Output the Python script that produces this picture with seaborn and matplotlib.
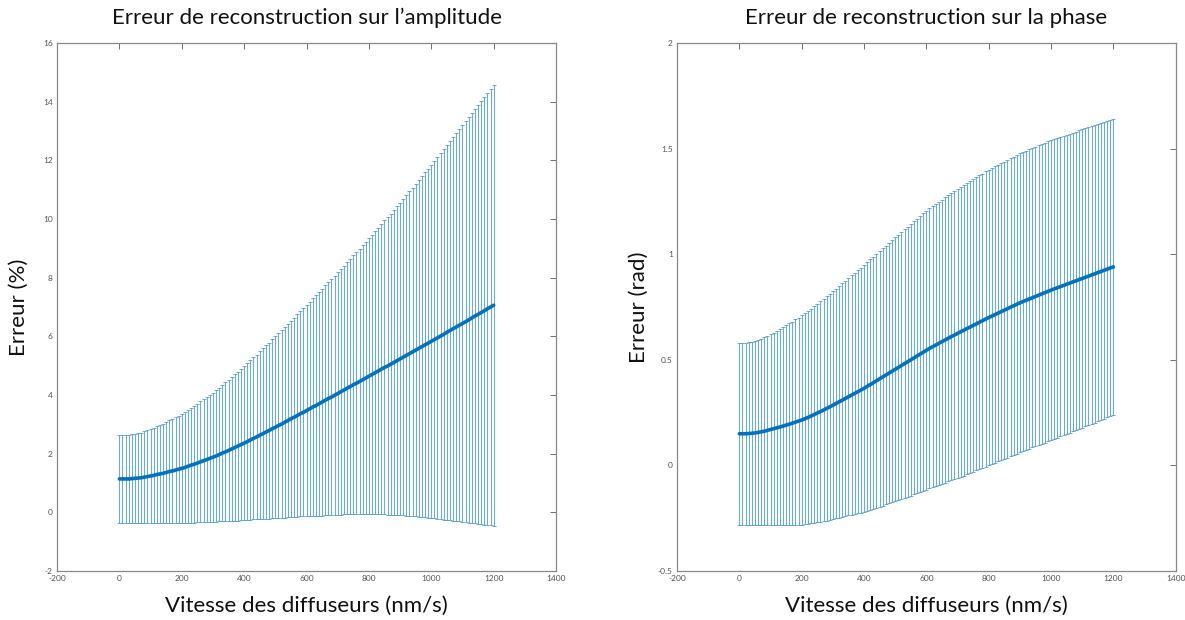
import matplotlib
matplotlib.use('Agg')
import matplotlib.pyplot as plt
from matplotlib.ticker import FuncFormatter
import seaborn as sns
import pandas as pd

sns.set_theme(style="white")
plt.rcParams['font.family'] = ['Lato', 'DejaVu Sans']

# vitesse des diffuseurs (nm/s), pas de 10
speeds = list(range(0, 1201, 10))

amp_mean = [1.14, 1.14, 1.14, 1.14, 1.15, 1.16, 1.17, 1.18, 1.20, 1.22,
            1.24, 1.26, 1.29, 1.31, 1.33, 1.36, 1.39, 1.41, 1.44, 1.47,
            1.50, 1.53, 1.57, 1.61, 1.64, 1.68, 1.72, 1.76, 1.80, 1.84,
            1.88, 1.92, 1.97, 2.02, 2.06, 2.11, 2.16, 2.21, 2.26, 2.31,
            2.36, 2.41, 2.47, 2.52, 2.57, 2.63, 2.68, 2.74, 2.79, 2.85,
            2.90, 2.96, 3.01, 3.07, 3.13, 3.19, 3.24, 3.30, 3.36, 3.41,
            3.47, 3.53, 3.59, 3.64, 3.70, 3.76, 3.82, 3.88, 3.93, 3.99,
            4.05, 4.11, 4.17, 4.23, 4.29, 4.35, 4.40, 4.46, 4.52, 4.58,
            4.64, 4.70, 4.76, 4.82, 4.88, 4.94, 4.99, 5.05, 5.11, 5.17,
            5.23, 5.29, 5.35, 5.41, 5.47, 5.53, 5.59, 5.65, 5.71, 5.77,
            5.83, 5.89, 5.95, 6.01, 6.07, 6.14, 6.20, 6.26, 6.32, 6.38,
            6.44, 6.50, 6.56, 6.63, 6.69, 6.75, 6.81, 6.87, 6.94, 7.00,
            7.06]
amp_std = [1.50, 1.50, 1.50, 1.51, 1.51, 1.52, 1.53, 1.54, 1.56, 1.58,
           1.60, 1.62, 1.65, 1.67, 1.69, 1.72, 1.75, 1.77, 1.80, 1.83,
           1.86, 1.89, 1.92, 1.96, 1.99, 2.02, 2.06, 2.09, 2.13, 2.16,
           2.20, 2.24, 2.28, 2.32, 2.37, 2.41, 2.45, 2.49, 2.54, 2.58,
           2.62, 2.67, 2.72, 2.76, 2.81, 2.86, 2.91, 2.96, 3.00, 3.05,
           3.10, 3.15, 3.20, 3.25, 3.30, 3.35, 3.40, 3.45, 3.50, 3.55,
           3.60, 3.65, 3.71, 3.76, 3.81, 3.87, 3.92, 3.97, 4.02, 4.08,
           4.13, 4.19, 4.24, 4.30, 4.36, 4.42, 4.47, 4.53, 4.59, 4.64,
           4.70, 4.76, 4.82, 4.89, 4.95, 5.01, 5.07, 5.13, 5.20, 5.26,
           5.32, 5.39, 5.46, 5.53, 5.60, 5.67, 5.74, 5.81, 5.88, 5.95,
           6.02, 6.09, 6.17, 6.24, 6.32, 6.39, 6.46, 6.54, 6.61, 6.69,
           6.76, 6.84, 6.91, 6.99, 7.06, 7.14, 7.22, 7.29, 7.37, 7.44,
           7.52]

phase_mean = [0.150, 0.150, 0.150, 0.151, 0.152, 0.154, 0.156, 0.159, 0.162, 0.166,
              0.170, 0.174, 0.178, 0.182, 0.186, 0.191, 0.195, 0.200, 0.205, 0.210,
              0.215, 0.221, 0.227, 0.234, 0.241, 0.248, 0.255, 0.262, 0.270, 0.277,
              0.285, 0.293, 0.301, 0.309, 0.317, 0.325, 0.333, 0.341, 0.349, 0.357,
              0.365, 0.374, 0.383, 0.392, 0.401, 0.410, 0.419, 0.428, 0.437, 0.446,
              0.455, 0.464, 0.473, 0.482, 0.491, 0.500, 0.509, 0.518, 0.527, 0.536,
              0.545, 0.554, 0.562, 0.570, 0.578, 0.586, 0.594, 0.602, 0.610, 0.617,
              0.625, 0.633, 0.640, 0.648, 0.655, 0.663, 0.670, 0.678, 0.685, 0.693,
              0.700, 0.707, 0.714, 0.721, 0.728, 0.735, 0.742, 0.749, 0.756, 0.763,
              0.770, 0.776, 0.782, 0.788, 0.794, 0.800, 0.806, 0.812, 0.818, 0.824,
              0.830, 0.836, 0.841, 0.847, 0.852, 0.858, 0.863, 0.869, 0.874, 0.880,
              0.885, 0.891, 0.896, 0.902, 0.907, 0.913, 0.918, 0.924, 0.929, 0.935,
              0.940]
phase_std = [0.430, 0.430, 0.431, 0.432, 0.434, 0.436, 0.438, 0.441, 0.444, 0.447,
             0.450, 0.454, 0.459, 0.463, 0.468, 0.472, 0.477, 0.481, 0.486, 0.490,
             0.495, 0.499, 0.504, 0.508, 0.513, 0.517, 0.522, 0.526, 0.531, 0.535,
             0.540, 0.544, 0.549, 0.553, 0.558, 0.562, 0.567, 0.571, 0.576, 0.580,
             0.585, 0.589, 0.593, 0.597, 0.601, 0.605, 0.609, 0.613, 0.617, 0.621,
             0.625, 0.629, 0.632, 0.636, 0.639, 0.643, 0.646, 0.650, 0.653, 0.657,
             0.660, 0.663, 0.665, 0.668, 0.670, 0.673, 0.675, 0.678, 0.680, 0.683,
             0.685, 0.687, 0.688, 0.690, 0.691, 0.693, 0.694, 0.696, 0.697, 0.699,
             0.700, 0.701, 0.702, 0.702, 0.703, 0.704, 0.705, 0.706, 0.706, 0.707,
             0.708, 0.708, 0.708, 0.709, 0.709, 0.709, 0.709, 0.710, 0.710, 0.710,
             0.710, 0.710, 0.710, 0.709, 0.709, 0.708, 0.708, 0.707, 0.707, 0.706,
             0.706, 0.705, 0.705, 0.704, 0.704, 0.703, 0.703, 0.702, 0.701, 0.701,
             0.700]

titles = ["Erreur de reconstruction sur l\u2019amplitude",
          "Erreur de reconstruction sur la phase"]
ylabels = ["Erreur (%)", "Erreur (rad)"]
xlabel = "Vitesse des diffuseurs (nm/s)"
xticks = [-200, 0, 200, 400, 600, 800, 1000, 1200, 1400]
yticks_amp = [-2, 0, 2, 4, 6, 8, 10, 12, 14, 16]
yticks_phase = [-0.5, 0, 0.5, 1, 1.5, 2]

blue = '#0072BD'

fig = plt.figure(figsize=(11.85, 6.2), dpi=100)
ax1 = fig.add_axes([0.0481, 0.079, 0.4211, 0.8516])
ax2 = fig.add_axes([0.5713, 0.079, 0.4209, 0.8516])

fmt = FuncFormatter(lambda v, p: ('%g' % v))

panels = [(ax1, amp_mean, amp_std, yticks_amp),
          (ax2, phase_mean, phase_std, yticks_phase)]

for i, (ax, m, s, yt) in enumerate(panels):
    df = pd.DataFrame({'v': speeds, 'm': m, 's': s})
    ax.errorbar(df['v'], df['m'], yerr=df['s'], fmt='none',
                ecolor='#4a97cf', elinewidth=0.8, capsize=1.6, capthick=0.7, alpha=0.8)
    sns.lineplot(data=df, x='v', y='m', ax=ax, color=blue, linewidth=2.6)
    ax.set_xlim(-200, 1400)
    ax.set_ylim(yt[0], yt[-1])
    ax.set_xticks(xticks)
    ax.set_yticks(yt)
    ax.xaxis.set_major_formatter(fmt)
    ax.yaxis.set_major_formatter(fmt)
    ax.tick_params(direction='in', length=4, width=0.7, colors='#707070',
                   labelsize=6, labelcolor='#555555', top=True, right=True, pad=3)
    for sp in ax.spines.values():
        sp.set_color('#888888')
        sp.set_linewidth(0.9)
    ax.set_title(titles[i], fontsize=16, pad=14, color='#111111')
    ax.set_xlabel(xlabel, fontsize=16, labelpad=10, color='#111111')
    ax.set_ylabel(ylabels[i], fontsize=16, color='#111111')
    ax.yaxis.set_label_coords(-0.056, 0.5)

fig.savefig('out.png', dpi=100)
